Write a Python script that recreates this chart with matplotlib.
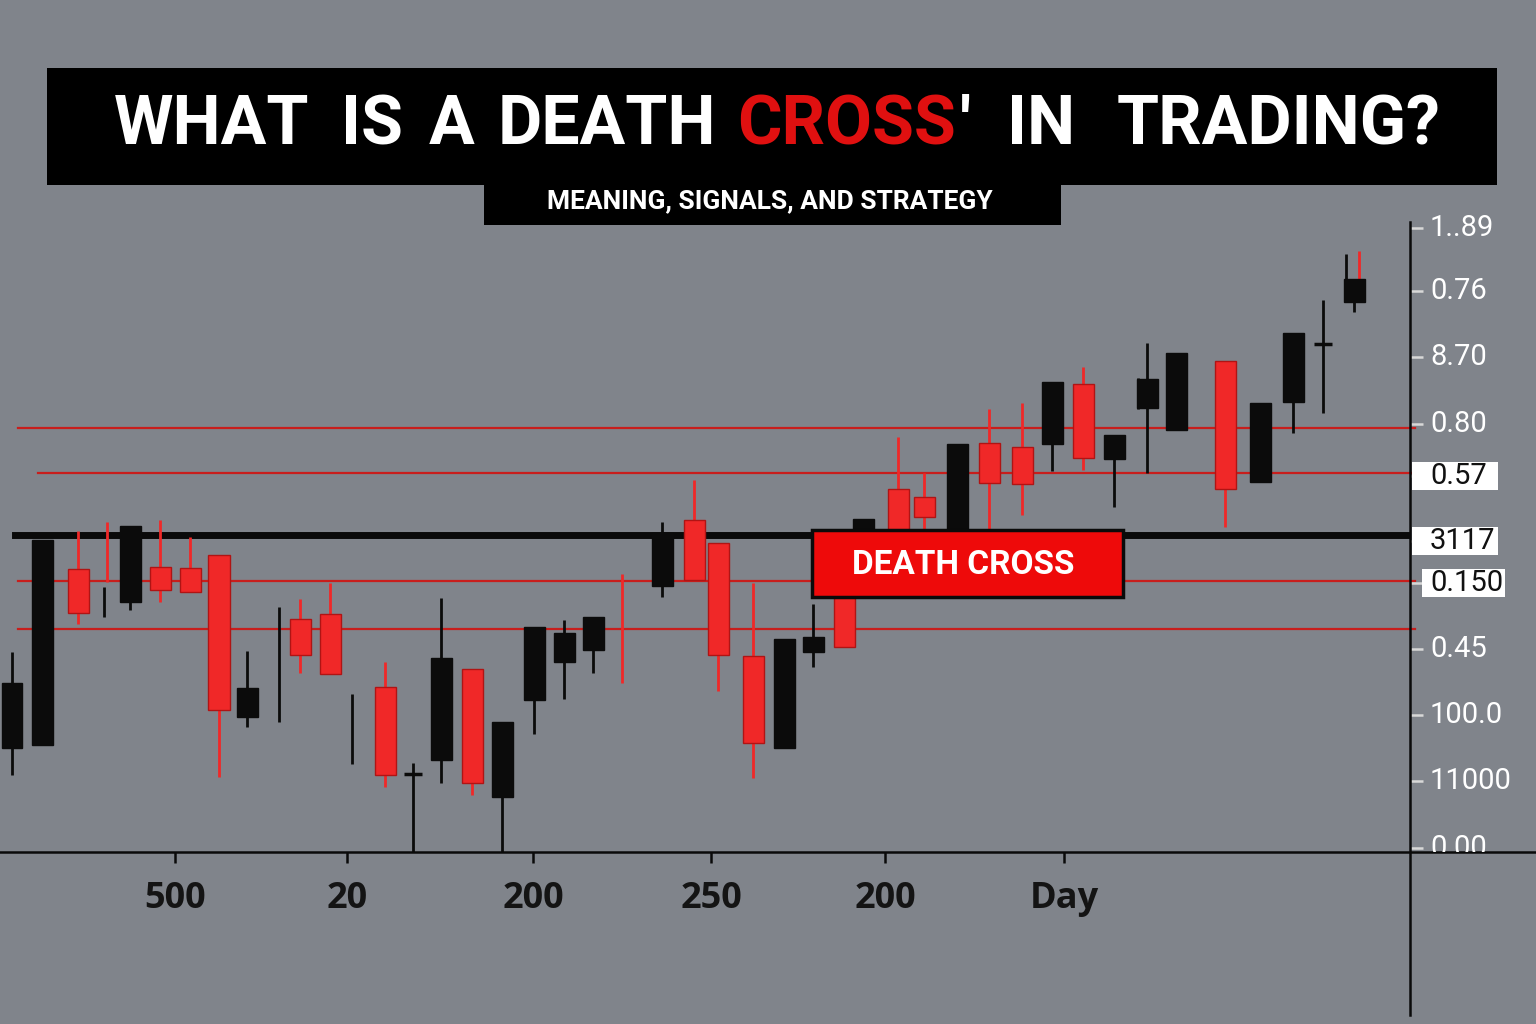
import matplotlib.pyplot as plt
from matplotlib.patches import Rectangle

# candle data (day position, open, high, low, close)
days   = [1.2, 4.2, 7.8, 13.0, 16.0, 19.0, 21.9, 24.7, 30.0, 33.0, 38.5, 41.3, 44.1, 47.2, 50.2,
          53.4, 56.4, 59.3, 66.2, 69.4, 71.8, 75.3, 78.4, 81.3, 84.4, 86.3, 89.8, 92.4, 95.7,
          98.9, 102.2, 105.2, 108.3, 111.4, 114.7, 117.6, 122.5, 126.0, 129.3, 132.3, 135.4]
opens  = [10.4, 10.7, 28.3, 25.0, 28.5, 28.4, 29.7, 13.5, 23.3, 23.8, 16.5, 7.8, 9.2, 18.3, 5.5,
          15.2, 19.0, 20.2, 26.6, 33.2, 30.9, 19.6, 10.4, 20.0, 29.2, 31.7, 36.3, 35.5, 32.2,
          40.9, 40.5, 40.8, 46.8, 39.3, 44.4, 42.2, 49.1, 37.0, 45.0, 50.8, 55.0]
highs  = [20.0, 31.2, 32.1, 32.6, 33.2, 31.5, 29.7, 20.1, 25.3, 26.9, 19.0, 8.9, 25.4, 18.3, 13.0,
          22.5, 23.2, 23.5, 33.0, 37.2, 30.9, 26.9, 21.3, 24.8, 29.2, 33.3, 41.5, 37.9, 40.8,
          44.3, 44.9, 47.0, 48.5, 41.7, 50.9, 49.9, 49.1, 44.9, 51.9, 55.2, 57.3]
lows   = [7.7, 10.7, 22.8, 24.2, 25.0, 26.0, 7.5, 12.5, 17.9, 17.8, 6.5, 0.0, 6.9, 5.7, 0.0,
          11.8, 15.3, 17.9, 25.5, 27.2, 16.1, 7.4, 10.4, 18.5, 20.5, 31.7, 31.7, 32.2, 32.2,
          32.2, 33.7, 38.1, 38.2, 34.5, 37.9, 42.2, 32.5, 37.0, 41.9, 43.9, 54.0]
closes = [16.9, 31.2, 23.9, 32.6, 26.2, 26.0, 14.2, 16.4, 19.7, 17.8, 7.7, 7.8, 19.4, 6.9, 13.0,
          22.5, 21.9, 23.5, 31.9, 27.2, 19.7, 10.9, 21.3, 21.5, 20.5, 33.3, 31.7, 33.5, 40.8,
          36.9, 36.8, 47.0, 39.4, 41.7, 47.3, 49.9, 36.3, 44.9, 51.9, 50.8, 57.3]

# loose wick strokes without a body
stray_x     = [10.4, 10.7, 27.9, 35.2, 62.2, 113.8, 134.6, 135.9]
stray_top   = [26.5, 33.0, 24.5, 15.8, 27.8, 47.4, 59.8, 60.1]
stray_bot   = [23.5, 27.0, 13.0, 8.8, 16.9, 44.3, 57.3, 57.3]
stray_color = ['k', 'r', 'k', 'k', 'r', 'k', 'k', 'r']

# horizontal levels
red_levels = [42.4, 37.9, 27.1, 22.3]
red_starts = [1.8, 3.8, 1.8, 1.8]
cross_level = 31.7

xtick_pos = [17.5, 34.7, 53.3, 71.1, 88.5, 106.4]
xtick_labels = ['500', '20', '200', '250', '200', 'Day']

ytick_pos = [62.4, 56.1, 49.5, 42.8, 37.6, 31.1, 26.9, 20.3, 13.7, 7.1, 0.4]
ytick_labels = ['1..89', '0.76', '8.70', '0.80', '0.57', '3117', '0.150', '0.45', '100.0', '11000', '0.00']
ytick_boxed = [False, False, False, False, True, True, True, False, False, False, False]

BG = '#80848b'
RED = '#f02828'
FONT = ['Roboto', 'DejaVu Sans']

fig = plt.figure(figsize=(15.36, 10.24), dpi=100, facecolor=BG)
ax = fig.add_axes([0, 172 / 1024, 1410 / 1536, 630 / 1024])
ax.set_facecolor(BG)
ax.set_xlim(0, 141)
ax.set_ylim(0, 63)
for s in ax.spines.values():
    s.set_visible(False)

# level lines
for lvl, x0 in zip(red_levels, red_starts):
    ax.plot([x0, 141.5], [lvl, lvl], color='#c81e1c', lw=1.6, zorder=1, clip_on=False)
ax.plot([1.5, 141], [cross_level, cross_level], color='#0a0a0a', lw=5, zorder=1)

# candles
for d, o, h, l, c in zip(days, opens, highs, lows, closes):
    col = RED if c < o else '#0b0b0b'
    ax.vlines(d, l, h, color=col, lw=2, zorder=2)
    if o == c:
        ax.hlines(o, d - 0.9, d + 0.9, color=col, lw=2.5, zorder=3)
    else:
        ax.bar(d, abs(c - o), bottom=min(o, c), width=2.1, color=col,
               edgecolor='#b01414' if c < o else '#0b0b0b', lw=1, zorder=3)

for x, t, b, col in zip(stray_x, stray_top, stray_bot, stray_color):
    ax.vlines(x, b, t, color=RED if col == 'r' else '#0b0b0b', lw=2, zorder=2)

# axis lines
ax.plot([0, 153.6], [0, 0], color='#0a0a0a', lw=1.8, clip_on=False, zorder=6)
ax.plot([141, 141], [-16.3, 63.0], color='#0a0a0a', lw=1.8, clip_on=False, zorder=6)

# x ticks
ax.set_xticks(xtick_pos, xtick_labels)
ax.tick_params(axis='x', length=8, width=1.8, color='#0a0a0a', pad=13,
               labelsize=26, labelcolor='#141414')
for lab in ax.get_xticklabels():
    lab.set_fontfamily(['Open Sans', 'DejaVu Sans'])
    lab.set_fontweight('bold')

# right ticks
ax.yaxis.tick_right()
ax.set_yticks(ytick_pos)
ax.tick_params(axis='y', length=9, width=1.8, color='#d8d8d8', labelright=False)
for y, lab, boxed in zip(ytick_pos, ytick_labels, ytick_boxed):
    x_txt = 143.0
    if boxed:
        left, right = 141.2, 149.8
        if lab == '0.150':
            left, right, x_txt = 142.2, 150.5, 143.0
        ax.add_patch(Rectangle((left, y - 1.4), right - left, 2.8, facecolor='white',
                               edgecolor='none', clip_on=False, zorder=6.5))
    t = ax.text(x_txt, y, lab, ha='left', va='center', fontsize=21, family=FONT,
                color='#111111' if boxed else 'white', clip_on=False, zorder=7)
    if y < 1:
        t.set_clip_path(Rectangle((141, 0), 15, 5, transform=ax.transData))
        t.set_clip_on(True)

# death cross label
ax.add_patch(Rectangle((81.2, 25.5), 31.1, 6.7, facecolor='#ee0a0a', edgecolor='#0a0a0a',
                       lw=2.5, zorder=8))
ax.text(96.3, 28.75, 'DEATH CROSS', ha='center', va='center', color='white', fontsize=24,
        fontweight='bold', family=FONT, zorder=9)

# title banners
fig.add_artist(Rectangle((47 / 1536, 1 - 185 / 1024), 1450 / 1536, 117 / 1024,
                         transform=fig.transFigure, facecolor='black', edgecolor='none'))
fig.add_artist(Rectangle((484 / 1536, 1 - 225 / 1024), 577 / 1536, 41 / 1024,
                         transform=fig.transFigure, facecolor='black', edgecolor='none'))

words = ['WHAT', 'IS', 'A', 'DEATH', 'CROSS', "'", 'IN', 'TRADING?']
word_x = [212, 372, 452, 607, 847, 965, 1041, 1279]
for w, x in zip(words, word_x):
    fig.text(x / 1536, 1 - 126 / 1024, w, ha='center', va='center', fontsize=49,
             fontweight='bold', family=FONT, color='#e01010' if w == 'CROSS' else 'white')

fig.text(770 / 1536, 1 - 201 / 1024, 'MEANING, SIGNALS, AND STRATEGY', ha='center', va='center',
         fontsize=19, fontweight='bold', family=FONT, color='white')

fig.savefig('out.png', dpi=100, facecolor=BG)
